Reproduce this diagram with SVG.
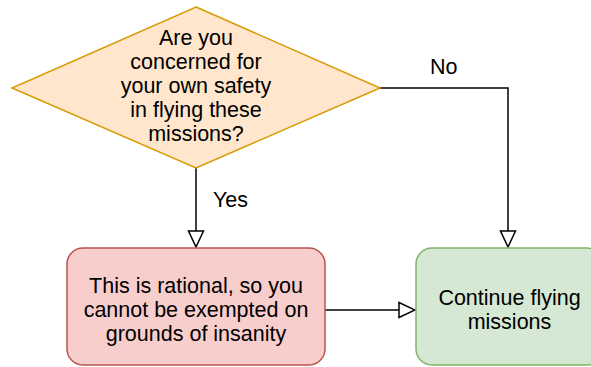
<svg xmlns="http://www.w3.org/2000/svg" width="591" height="367" viewBox="0 0 591 367">
<defs>
<marker id="open" viewBox="0 0 18 18" markerWidth="18" markerHeight="18" refX="17" refY="9" orient="auto" markerUnits="userSpaceOnUse">
<path d="M1,1.5 L17,9 L1,16.5 Z" fill="#ffffff" stroke="#000000" stroke-width="1.5"/>
</marker>
</defs>
<style>
text{font-family:"Liberation Sans",Arial,sans-serif;font-size:21.5px;fill:#000000;text-anchor:middle}
.edge{fill:none;stroke:#000000;stroke-width:1.5}
.lbl{text-anchor:start}
</style>
<rect width="591" height="367" fill="#ffffff"/>
<g id="connectors">
<path class="edge" d="M196,168 L196,247" marker-end="url(#open)"/>
<path class="edge" d="M380,88 L508,88 L508,247" marker-end="url(#open)"/>
<path class="edge" d="M325,310 L415,310" marker-end="url(#open)"/>
<text class="lbl" x="213" y="207">Yes</text>
<text class="lbl" x="430" y="74">No</text>
</g>
<g id="decision">
<polygon points="196,7 380,88 196,168 12,88" fill="#ffe6cc" stroke="#d79b00" stroke-width="1.5"/>
<text x="196" y="45">Are you</text>
<text x="196" y="69">concerned for</text>
<text x="196" y="93">your own safety</text>
<text x="196" y="117">in flying these</text>
<text x="196" y="141">missions?</text>
</g>
<g id="rational">
<rect x="67" y="248" width="258" height="117" rx="16" fill="#f8cecc" stroke="#b85450" stroke-width="1.5"/>
<text x="196" y="293">This is rational, so you</text>
<text x="196" y="317">cannot be exempted on</text>
<text x="196" y="341">grounds of insanity</text>
</g>
<g id="continue">
<rect x="416" y="248" width="187" height="117" rx="16" fill="#d5e8d4" stroke="#82b366" stroke-width="1.5"/>
<text x="509.5" y="305">Continue flying</text>
<text x="509.5" y="329">missions</text>
</g>
</svg>
